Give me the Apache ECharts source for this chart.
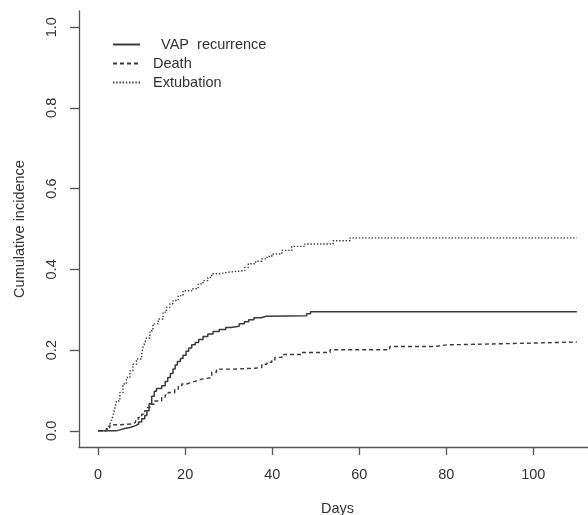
<!DOCTYPE html>
<html>
<head>
<meta charset="utf-8">
<script src="https://cdn.jsdelivr.net/npm/echarts@6/dist/echarts.min.js"></script>
<style>
html,body{margin:0;padding:0;background:#fff;}
#c{width:588px;height:515px;}
</style>
</head>
<body>
<div id="c"></div>
<script>
// ---- data ----
const seriesNames = ['  VAP  recurrence', 'Death', 'Extubation'];
const xTicks = [0, 20, 40, 60, 80, 100];
const yTicks = [0, 0.2, 0.4, 0.6, 0.8, 1.0];

const vapDays = [0,4.2,5.2,6.1,7.5,8.6,9.3,10.0,10.7,11.2,11.7,12.3,12.9,13.4,14.6,15.4,16.0,16.6,17.2,17.7,18.2,18.9,19.5,20.2,20.8,21.5,22.3,23.1,24.1,25.2,26.4,27.8,29.3,30.5,32.4,33.6,34.6,35.8,37.5,38.6,47.9,48.8,110];
const vapCI   = [0,0.003,0.006,0.009,0.013,0.017,0.022,0.030,0.038,0.050,0.067,0.086,0.098,0.105,0.112,0.122,0.132,0.142,0.153,0.163,0.172,0.179,0.187,0.197,0.205,0.213,0.219,0.226,0.234,0.240,0.246,0.251,0.256,0.259,0.265,0.270,0.275,0.280,0.284,0.285,0.290,0.295,0.295];

const deathDays = [0,1.9,2.7,4.6,7.7,8.6,9.2,10.0,10.7,11.3,11.9,13.0,14.6,15.4,16.1,17.6,18.4,19.2,20.3,21.5,22.6,23.8,26.1,27.2,31.0,36.0,37.6,38.8,39.9,40.6,42.2,46.8,53.3,67.0,77.4,80.1,93.9,110];
const deathCI   = [0,0.008,0.015,0.017,0.021,0.027,0.033,0.041,0.050,0.058,0.066,0.074,0.083,0.089,0.095,0.103,0.110,0.116,0.120,0.124,0.128,0.132,0.145,0.153,0.155,0.157,0.165,0.170,0.175,0.182,0.189,0.194,0.201,0.209,0.213,0.216,0.220,0.220];

const extDays = [0,1.9,2.3,2.7,3.1,3.4,3.8,4.2,5.0,5.7,6.5,7.3,8.0,8.8,10.0,10.3,10.7,11.1,11.9,12.6,13.8,14.9,15.7,16.5,17.2,18.4,19.5,21.5,23.0,24.1,25.2,26.1,28.0,29.9,33.7,34.5,36.2,37.6,38.8,39.9,42.2,44.5,47.5,54.0,57.9,110];
const extCI   = [0,0.004,0.008,0.017,0.027,0.037,0.054,0.074,0.095,0.116,0.132,0.149,0.165,0.178,0.190,0.207,0.217,0.230,0.248,0.265,0.277,0.294,0.306,0.315,0.323,0.335,0.347,0.352,0.364,0.372,0.380,0.389,0.393,0.397,0.405,0.414,0.420,0.426,0.432,0.438,0.447,0.457,0.463,0.471,0.478,0.478];

// ---- chart ----
const FONT = "'Liberation Sans', Arial, sans-serif";
const TXT = '#333';
const AX = '#555';
const LINE = '#3a3a3a';

function pairs(xs, ys){ return xs.map((x,i)=>[x, ys[i]]); }

const chart = echarts.init(document.getElementById('c'), null, {renderer:'canvas'});
chart.setOption({
  animation: false,
  backgroundColor: '#fff',
  textStyle: {fontFamily: FONT},
  grid: {left: 79, right: -8, top: 11, bottom: 68, containLabel: false, outerBoundsMode: 'none'},
  legend: {
    orient: 'vertical', left: 107, top: 32,
    itemWidth: 27, itemHeight: 14, itemGap: 4,
    itemStyle: {opacity: 0},
    textStyle: {fontFamily: FONT, fontSize: 14.5, color: TXT, padding: [0,0,0,8]},
    data: seriesNames
  },
  xAxis: {
    type: 'value', min: -4.4, max: 114.4,
    name: 'Days', nameLocation: 'middle', nameGap: 54,
    nameTextStyle: {fontFamily: FONT, fontSize: 14.5, color: TXT},
    axisLine: {show: true, onZero: false, lineStyle: {color: AX, width: 1.3}},
    axisTick: {show: true, length: 8, customValues: xTicks, lineStyle: {color: AX, width: 1.3}},
    axisLabel: {customValues: xTicks, fontFamily: FONT, fontSize: 14.5, color: TXT, margin: 20},
    splitLine: {show: false}
  },
  yAxis: {
    type: 'value', min: -0.04, max: 1.04,
    name: 'Cumulative incidence', nameLocation: 'middle', nameGap: 52, nameRotate: 90,
    nameTextStyle: {fontFamily: FONT, fontSize: 14.5, color: TXT},
    axisLine: {show: true, onZero: false, lineStyle: {color: AX, width: 1.3}},
    axisTick: {show: true, length: 9, customValues: yTicks, lineStyle: {color: AX, width: 1.3}},
    axisLabel: {customValues: yTicks, rotate: 90, fontFamily: FONT, fontSize: 14.5, color: TXT, margin: 20,
      formatter: v => v.toFixed(1)},
    splitLine: {show: false}
  },
  series: [
    {name: seriesNames[0], type: 'line', step: 'end', symbol: 'none', showSymbol: false, data: pairs(vapDays, vapCI),
     lineStyle: {color: LINE, width: 1.5, type: 'solid'}, itemStyle: {color: LINE}},
    {name: seriesNames[1], type: 'line', step: 'end', symbol: 'none', showSymbol: false, data: pairs(deathDays, deathCI),
     lineStyle: {color: LINE, width: 1.4, type: [4,3]}, itemStyle: {color: LINE}},
    {name: seriesNames[2], type: 'line', step: 'end', symbol: 'none', showSymbol: false, data: pairs(extDays, extCI),
     lineStyle: {color: LINE, width: 1.4, type: [1.4,1.8]}, itemStyle: {color: LINE}}
  ]
});
</script>
</body>
</html>
